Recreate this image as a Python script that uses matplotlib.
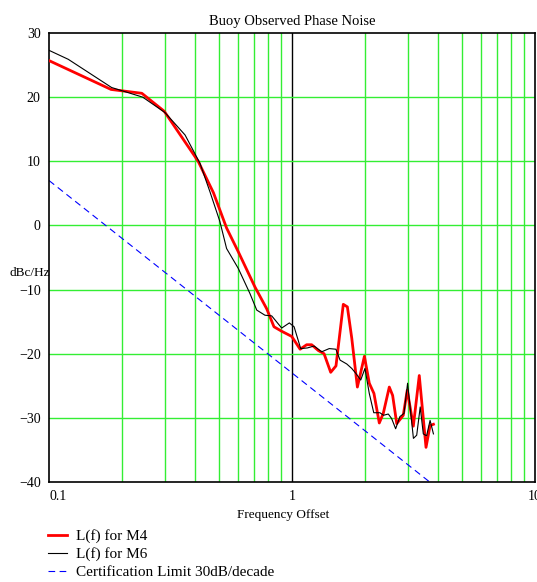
import matplotlib
matplotlib.use('Agg')
import matplotlib.pyplot as plt
from matplotlib.ticker import FixedLocator, NullLocator

plt.rcParams['font.family'] = ['Liberation Serif', 'DejaVu Serif']

# L(f) for M4 (red)
f_m4 = [0.1, 0.18, 0.241, 0.298, 0.411, 0.475, 0.538, 0.601, 0.704, 0.787, 0.843, 0.907,
        0.997, 1.08, 1.149, 1.205, 1.283, 1.355, 1.443, 1.517, 1.626, 1.69, 1.762, 1.858,
        1.986, 2.08, 2.174, 2.287, 2.375, 2.514, 2.595, 2.698, 2.87, 2.98, 3.157, 3.34,
        3.56, 3.7, 3.82]
db_m4 = [25.7, 21.2, 20.6, 17.8, 10.0, 5.1, -0.4, -4.1, -9.6, -13.0, -15.8, -16.5,
         -17.3, -19.3, -18.6, -18.6, -19.5, -20.0, -22.9, -21.9, -12.3, -12.7, -17.6, -25.2,
         -20.4, -24.6, -26.2, -30.8, -29.3, -25.2, -26.5, -30.9, -29.6, -25.7, -31.3, -23.4,
         -34.6, -31.2, -31.0]

# L(f) for M6 (black)
f_m6 = [0.1, 0.12, 0.181, 0.243, 0.3, 0.363, 0.418, 0.46, 0.505, 0.538, 0.601, 0.671,
        0.716, 0.774, 0.825, 0.907, 0.975, 1.02, 1.086, 1.157, 1.233, 1.325, 1.423, 1.516,
        1.577, 1.68, 1.762, 1.834, 1.918, 1.996, 2.08, 2.17, 2.3, 2.38, 2.49, 2.57, 2.67,
        2.78, 2.89, 2.99, 3.16, 3.26, 3.37, 3.47, 3.58, 3.7, 3.82]
db_m6 = [27.3, 25.9, 21.5, 20.0, 17.6, 14.1, 9.7, 5.2, 0.6, -3.6, -6.7, -10.6,
         -13.2, -14.0, -14.1, -16.0, -15.2, -15.8, -19.2, -19.1, -18.8, -19.7, -19.2, -19.3,
         -21.0, -21.6, -22.3, -23.1, -24.1, -22.3, -26.2, -29.2, -29.2, -29.6, -29.4, -30.1, -31.7,
         -29.8, -29.3, -24.6, -33.2, -32.7, -28.3, -32.5, -32.8, -30.4, -32.5]

# certification limit, 30 dB/decade
f_lim = [0.1, 1.0, 10.0]
db_lim = [7.0, -23.0, -53.0]

fig = plt.figure(figsize=(5.37, 5.82), dpi=100)
ax = fig.add_axes([49/537, 1-482/582, 486/537, 449/582])
ax.set_xscale('log')
ax.set_xlim(0.1, 10)
ax.set_ylim(-40, 30)

green = '#33ee33'
for dec in [0.1, 1.0]:
    for k in range(2, 10):
        ax.axvline(dec*k, color=green, lw=1, zorder=1)
ax.axvline(1.0, color='black', lw=1, zorder=1)
for yv in [-30, -20, -10, 0, 10, 20]:
    ax.axhline(yv, color=green, lw=1, zorder=1)

ax.plot(f_m4, db_m4, color='red', lw=2, zorder=3, label='L(f) for M4')
ax.plot(f_m6, db_m6, color='black', lw=0.8, zorder=4, label='L(f) for M6')
ax.plot(f_lim, db_lim, color='blue', lw=0.8, dashes=(6, 4), zorder=2,
        label='Certification Limit 30dB/decade')

ax.xaxis.set_major_locator(FixedLocator([0.1, 1, 10]))
ax.xaxis.set_minor_locator(NullLocator())
ax.set_xticklabels(['0.1', '1', '10'])
ax.get_xticklabels()[0].set_ha('left')
ax.set_yticks(range(-40, 31, 10))
ax.tick_params(length=0, labelsize=10, pad=6)
for s in ax.spines.values():
    s.set_linewidth(1.2)

ax.set_title('Buoy Observed Phase Noise', fontsize=10.5, pad=6)
ax.set_xlabel('Frequency Offset', fontsize=9.5)
ax.xaxis.set_label_coords((283-49)/486, -(509-482)/449)
fig.text(10/537, 1-273/582, 'dBc/Hz', fontsize=9.5, ha='left', va='center')

fig.legend(loc='upper left', bbox_to_anchor=(42/537, 1-523/582), frameon=False,
           fontsize=11, handlelength=1.25, handletextpad=0.6, labelspacing=0.28,
           borderaxespad=0)

fig.savefig('out.png', dpi=100)
